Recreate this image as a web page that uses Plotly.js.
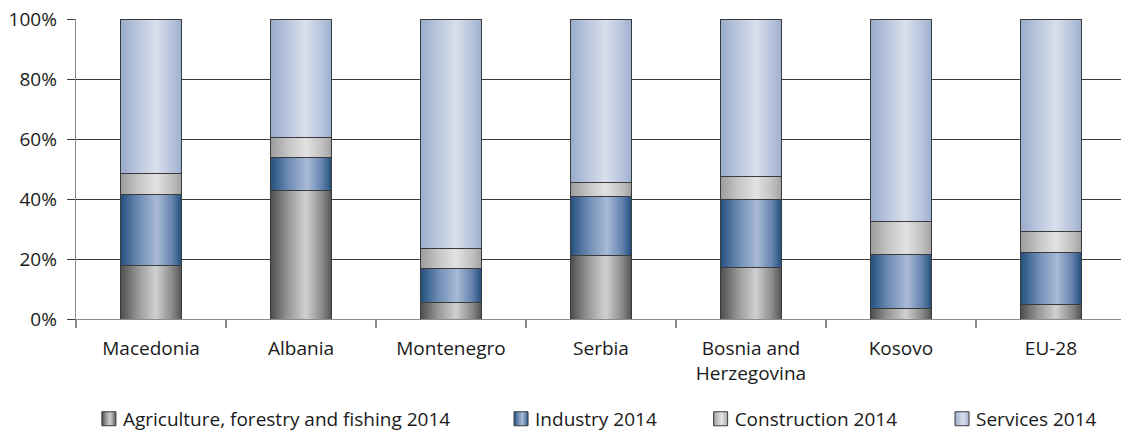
<!DOCTYPE html>
<html><head><meta charset="utf-8">
<script src="https://cdn.plot.ly/plotly-3.0.1.min.js"></script>
<style>html,body{margin:0;padding:0;background:#fff}#chart{width:1121px;height:434px}</style>
</head><body><div id="chart"></div>
<script>
const categories = ["Macedonia","Albania","Montenegro","Serbia","Bosnia and<br>Herzegovina","Kosovo","EU-28"];
const agriculture = [17.9,42.8,5.6,21.1,17.3,3.6,4.8];
const industry = [23.5,11.0,11.2,19.9,22.4,17.9,17.4];
const construction = [7.0,6.6,6.6,4.5,7.8,11.0,6.9];
const services = [51.6,39.6,76.6,54.5,52.5,67.5,70.9];
const seriesNames = ["Agriculture, forestry and fishing 2014","Industry 2014","Construction 2014","Services 2014"];
const yTickVals = [0,20,40,60,80,100];
const yTickText = ["0%","20%","40%","60%","80%","100%"];

const baseColors = ["#9a9a9a","#5a7ba6","#c6c6c6","#bcc8de"];
const gradStops = [
  [["0","#4e4e4e"],["0.3","#9a9a9a"],["0.58","#cfd0d2"],["0.85","#8a8a8a"],["1","#555555"]],
  [["0","#23507f"],["0.3","#6f8db5"],["0.6","#a9bad6"],["0.85","#6382ad"],["1","#24507f"]],
  [["0","#9c9c9c"],["0.3","#c6c6c6"],["0.58","#e2e2e2"],["0.85","#c0c0c0"],["1","#a2a2a2"]],
  [["0","#9aaccc"],["0.3","#bcc8de"],["0.58","#d9dfeb"],["0.85","#b6c3dc"],["1","#9eb0cf"]]
];
const FONT = "Open Sans, sans-serif";
const seriesValues = [agriculture, industry, construction, services];
const legendIds = ["legend","legend2","legend3","legend4"];
const legendX = [0.0066, 0.401, 0.592, 0.823];

const traces = seriesValues.map((vals,i)=>({
  type:"bar", x:categories, y:vals, name:seriesNames[i],
  legend: legendIds[i],
  marker:{color:baseColors[i], line:{color:"#3a3a3a", width:1}},
  hoverinfo:"none"
}));

const layout = {
  width:1121, height:434,
  margin:{l:76, r:0, t:19, b:115, autoexpand:false},
  paper_bgcolor:"#ffffff", plot_bgcolor:"#ffffff",
  barmode:"stack", bargap:0.595,
  font:{family:FONT, size:19, color:"#1a1a1a"},
  xaxis:{type:"category", range:[-0.5,6.467], showline:true, linecolor:"#8c8c8c", linewidth:1.3,
    ticks:"outside", tickson:"boundaries", ticklen:8, tickcolor:"#8c8c8c", tickwidth:1.3,
    showgrid:false, zeroline:false, tickfont:{family:FONT,size:19,color:"#1a1a1a"}, ticklabelstandoff:12, automargin:false},
  yaxis:{range:[0,100], tickvals:yTickVals, ticktext:yTickText, showline:true, linecolor:"#8c8c8c", linewidth:1.3,
    ticks:"outside", ticklen:8, tickcolor:"#3a3a3a", tickwidth:1, gridcolor:"#3a3a3a", gridwidth:1,
    zeroline:false, tickfont:{family:FONT,size:19,color:"#1a1a1a"}, ticklabelstandoff:6, automargin:false},
  showlegend:true
};
legendIds.forEach((id,i)=>{
  layout[id] = {x:legendX[i], xanchor:"left", y:-0.333, yanchor:"middle", orientation:"h",
    bgcolor:"rgba(0,0,0,0)", borderwidth:0, font:{family:FONT,size:19,color:"#1a1a1a"}, itemwidth:30};
});

function addGradients(gd){
  const ns = "http://www.w3.org/2000/svg";
  const svg = gd.querySelector(".main-svg");
  let defs = svg.querySelector("defs");
  if(!defs){defs = document.createElementNS(ns,"defs"); svg.insertBefore(defs, svg.firstChild);}
  gradStops.forEach((stops,i)=>{
    const lg = document.createElementNS(ns,"linearGradient");
    lg.setAttribute("id","bargrad"+i);
    lg.setAttribute("x1","0"); lg.setAttribute("y1","0"); lg.setAttribute("x2","1"); lg.setAttribute("y2","0");
    stops.forEach(s=>{
      const st = document.createElementNS(ns,"stop");
      st.setAttribute("offset",s[0]); st.setAttribute("stop-color",s[1]);
      lg.appendChild(st);
    });
    defs.appendChild(lg);
  });
  gd.querySelectorAll(".barlayer .trace").forEach((tr)=>{
    const d = tr.__data__; const idx = d && d[0] && d[0].trace ? d[0].trace.index : null;
    if(idx===null) return;
    tr.querySelectorAll("path").forEach(p=>{p.style.fill = "url(#bargrad"+idx+")";});
  });
  gd.querySelectorAll("g.traces").forEach((tr)=>{
    const d = tr.__data__; const idx = d && d[0] && d[0].trace ? d[0].trace.index : null;
    if(idx===null) return;
    tr.querySelectorAll(".legendpoints path").forEach(p=>{
      p.setAttribute("d","M13,7H-1V-7H13Z");
      p.style.fill = "url(#bargrad"+idx+")";
      p.style.stroke = "#3a3a3a"; p.style.strokeWidth = "1px";
    });
  });
}

Plotly.newPlot("chart", traces, layout, {displayModeBar:false, staticPlot:true}).then(addGradients);
</script>
</body></html>
